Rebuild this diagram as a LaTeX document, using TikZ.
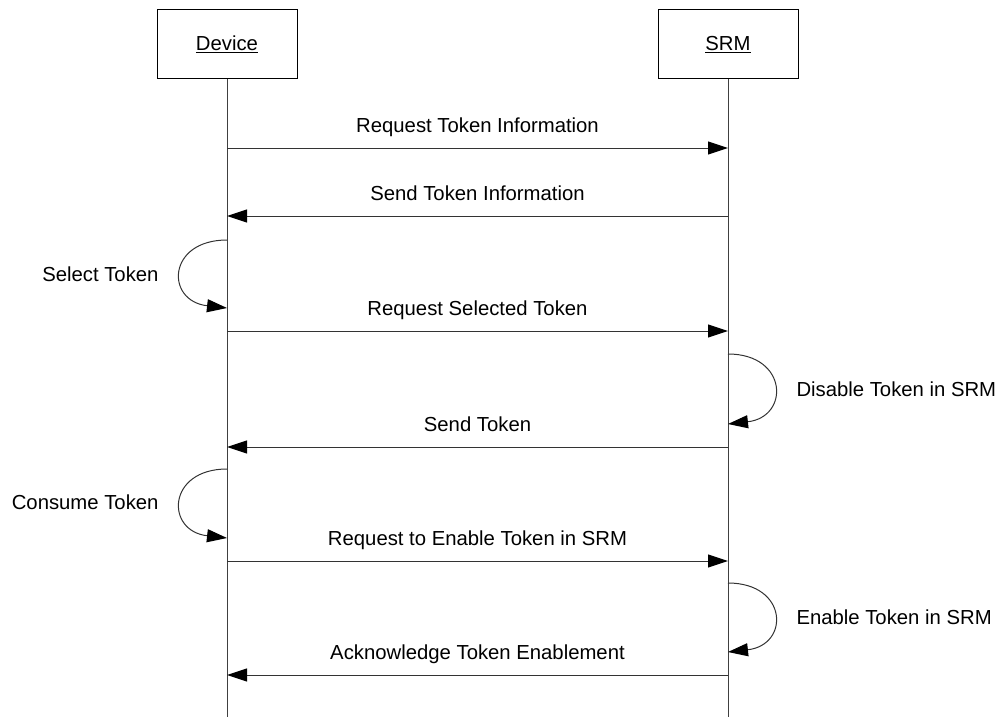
\documentclass[tikz,border=0pt]{standalone}
\usepackage{fontspec}
\setmainfont{Liberation Sans}
\usetikzlibrary{arrows.meta}
\tikzset{
    obj/.style={draw, minimum width=140pt, minimum height=69pt, inner sep=0pt},
    msg/.style={draw=black!80, -{Triangle[length=20pt,width=13pt,color=black]}},
    lbl/.style={inner sep=0pt, anchor=base, yshift=16pt},
    note/.style={inner sep=0pt},
}
\begin{document}
\begin{tikzpicture}[x=1pt,y=-1pt,line width=1pt,font=\fontsize{20.3}{24}\selectfont]
            \useasboundingbox (0,0) rectangle (1002,717);
            % objects and lifelines
            \node[obj] (dev) at (227,44.5) {\underline{Device}};
            \node[obj] (srm) at (728,44.5) {\underline{SRM}};
            \coordinate (devend) at (227,717);
            \coordinate (srmend) at (728,717);
            \draw[black!75] (dev.south) -- (devend);
            \draw[black!75] (srm.south) -- (srmend);
            % messages
            \coordinate (d1) at (227,148); \coordinate (s1) at (728,148);
            \coordinate (d2) at (227,216); \coordinate (s2) at (728,216);
            \coordinate (d3) at (227,331); \coordinate (s3) at (728,331);
            \coordinate (d4) at (227,447); \coordinate (s4) at (728,447);
            \coordinate (d5) at (227,561); \coordinate (s5) at (728,561);
            \coordinate (d6) at (227,675); \coordinate (s6) at (728,675);
            \draw[msg] (d1) -- node[lbl] {Request Token Information} (s1);
            \draw[msg] (s2) -- node[lbl] {Send Token Information} (d2);
            \draw[msg] (d3) -- node[lbl] {Request Selected Token} (s3);
            \draw[msg] (s4) -- node[lbl] {Send Token} (d4);
            \draw[msg] (d5) -- node[lbl] {Request to Enable Token in SRM} (s5);
            \draw[msg] (s6) -- node[lbl] {Acknowledge Token Enablement} (d6);
            % self calls
            \coordinate (la1) at (227,240); \coordinate (lb1) at (227,308);
            \coordinate (la2) at (728,354); \coordinate (lb2) at (728,424);
            \coordinate (la3) at (227,469); \coordinate (lb3) at (227,538);
            \coordinate (la4) at (728,583); \coordinate (lb4) at (728,652);
            \draw[msg] (la1) .. controls ++(-60,0) and ++(-62,-7) .. (lb1);
            \draw[msg] (la2) .. controls ++(60,0) and ++(62,-7) .. (lb2);
            \draw[msg] (la3) .. controls ++(-60,0) and ++(-62,-7) .. (lb3);
            \draw[msg] (la4) .. controls ++(60,0) and ++(62,-7) .. (lb4);
            \node[note, anchor=base east] (n1) at (159,281) {Select Token};
            \node[note, anchor=base west] (n2) at (796,396) {Disable Token in SRM};
            \node[note, anchor=base east] (n3) at (159,509) {Consume Token};
            \node[note, anchor=base west] (n4) at (796,624) {Enable Token in SRM};
\end{tikzpicture}
\end{document}
